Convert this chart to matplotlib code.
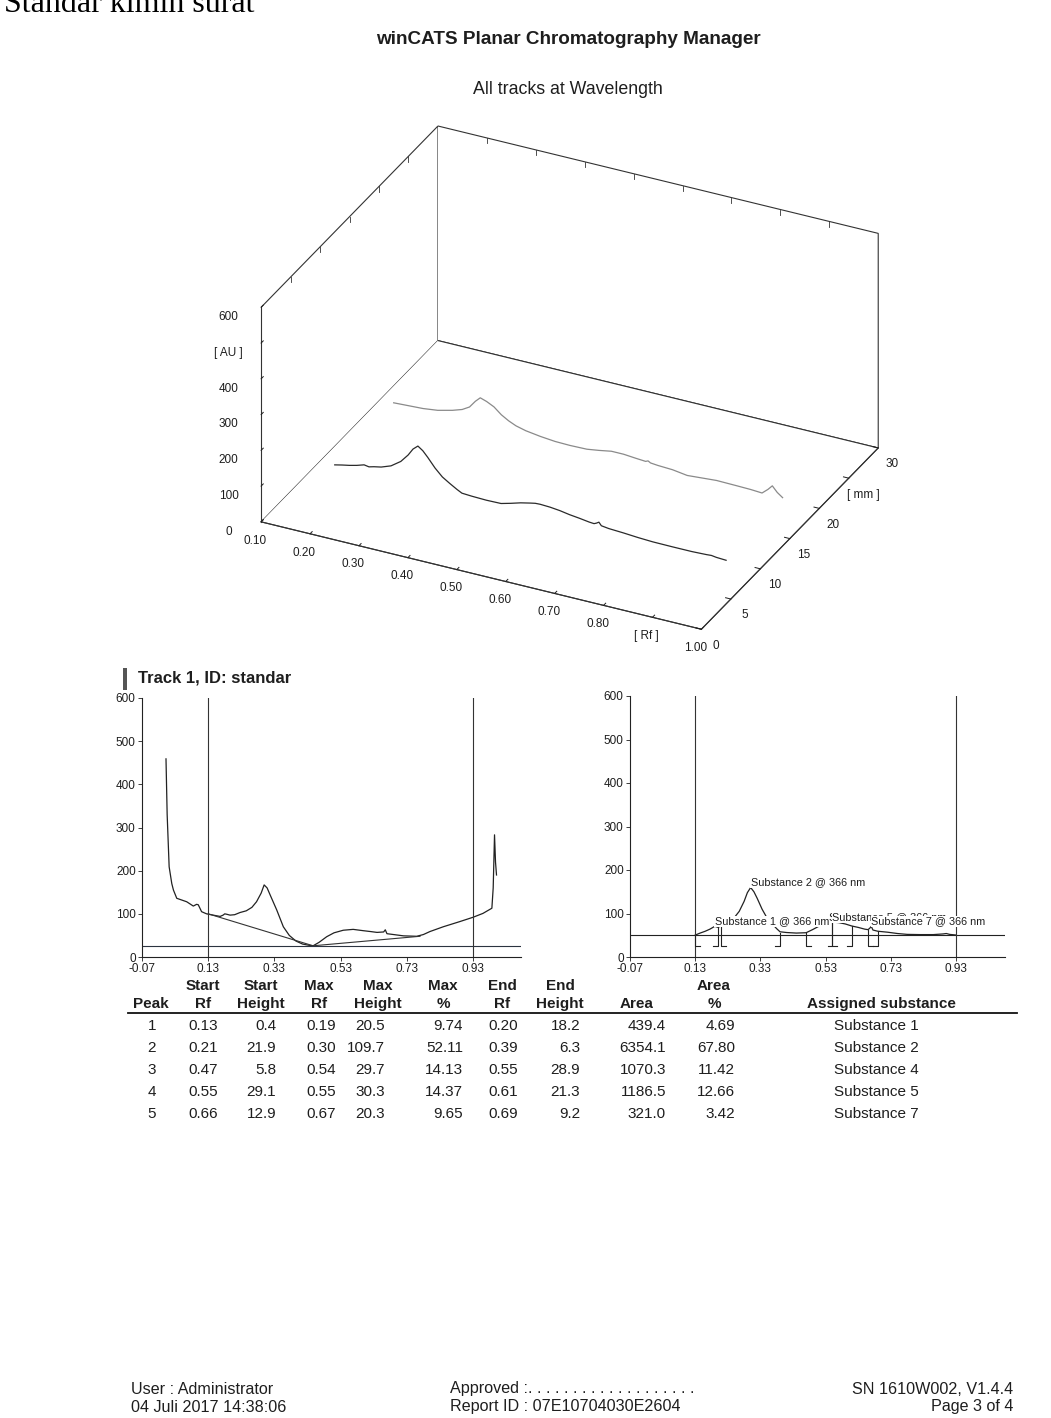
import numpy as np
import matplotlib
matplotlib.use("Agg")
import matplotlib.pyplot as plt
from matplotlib import font_manager
from matplotlib.lines import Line2D
from matplotlib.patches import Rectangle
from mpl_toolkits.mplot3d import proj3d

# ------------------------------------------------------------------ data
# raw densitogram of track 1 (left panel)
raw_rf = [0.0025, 0.006, 0.012, 0.02, 0.025, 0.035, 0.05, 0.065, 0.085, 0.095,
          0.10, 0.11, 0.125, 0.145, 0.166, 0.175, 0.18, 0.186, 0.196, 0.21,
          0.226, 0.245, 0.262, 0.276, 0.29, 0.299, 0.308, 0.317, 0.337, 0.357,
          0.375, 0.395, 0.415, 0.435, 0.447, 0.465, 0.488, 0.51, 0.538, 0.568,
          0.598, 0.62, 0.64, 0.66, 0.665, 0.67, 0.69, 0.72, 0.76, 0.78,
          0.80, 0.84, 0.89, 0.93, 0.96, 0.987, 0.991, 0.995, 0.998, 1.001]
raw_au = [459, 330, 209, 170, 155, 136, 132, 128, 118, 122,
          121, 105, 100, 97, 94, 97, 100, 99, 97, 98,
          103, 107, 115, 128, 148, 167, 160, 144, 109, 70,
          50, 37, 30, 27, 26, 34, 47, 56, 62, 64,
          61, 59, 57, 58, 63, 54, 52, 49, 48, 52,
          59, 70, 82, 92, 101, 113, 160, 283, 220, 190]
baseline_rf = [0.13, 0.447, 0.77]
baseline_au = [100, 26, 48]
reference_au = 26
window_rf = [0.13, 0.93]

# baseline-corrected tracks (3-D view; track 1 also in right panel)
trk1_rf = [0.13, 0.145, 0.16, 0.175, 0.19, 0.20, 0.21, 0.225, 0.245, 0.265,
           0.28, 0.29, 0.30, 0.31, 0.32, 0.335, 0.35, 0.365, 0.38, 0.39,
           0.41, 0.44, 0.47, 0.49, 0.51, 0.53, 0.54, 0.55, 0.57, 0.59,
           0.61, 0.63, 0.65, 0.66, 0.665, 0.67, 0.675, 0.69, 0.72, 0.75,
           0.78, 0.82, 0.86, 0.89, 0.90, 0.91, 0.93]
trk1_au = [0.4, 5, 9, 14, 20.5, 18.2, 21.9, 26, 36, 55,
           78, 98, 109.7, 100, 85, 60, 40, 27, 15, 8,
           6.3, 5, 5.8, 13, 21, 27, 29.7, 30.3, 29, 26,
           21.3, 18, 14, 12.9, 16, 20.3, 12, 9.2, 7, 4,
           2, 1.5, 1.5, 3, 4, 2, 0.5]
trk2_rf = [0.13, 0.16, 0.19, 0.22, 0.25, 0.27, 0.285, 0.297, 0.307, 0.32,
           0.335, 0.35, 0.365, 0.38, 0.40, 0.43, 0.46, 0.49, 0.525, 0.55,
           0.575, 0.60, 0.625, 0.645, 0.65, 0.655, 0.67, 0.70, 0.73, 0.76,
           0.79, 0.83, 0.86, 0.883, 0.895, 0.904, 0.914, 0.925]
trk2_au = [5, 7, 9, 14, 24, 33, 45, 65, 78, 72,
           62, 45, 33, 24, 17, 11, 7, 6, 7, 12,
           18, 18, 15, 13, 16, 12, 10, 8, 2, 5,
           8, 7, 6, 4, 18, 31, 16, 5]
track_mm = [10, 20]

# axis ticks
rf3_ticks = [0.10, 0.20, 0.30, 0.40, 0.50, 0.60, 0.70, 0.80, 0.90, 1.00]
rf3_labels = ["0.10", "0.20", "0.30", "0.40", "0.50", "0.60", "0.70", "0.80", "[ Rf ]", "1.00"]
mm_ticks = [0, 5, 10, 15, 20, 25, 30]
mm_labels = ["0", "5", "10", "15", "20", "[ mm ]", "30"]
au3_ticks = [0, 100, 200, 300, 400, 500, 600]
au3_labels = ["0", "100", "200", "300", "400", "[ AU ]", "600"]
rf2_ticks = [-0.07, 0.13, 0.33, 0.53, 0.73, 0.93]
au2_ticks = [0, 100, 200, 300, 400, 500, 600]

# peak table
peak_no = [1, 2, 3, 4, 5]
start_rf = [0.13, 0.21, 0.47, 0.55, 0.66]
start_height = [0.4, 21.9, 5.8, 29.1, 12.9]
max_rf = [0.19, 0.30, 0.54, 0.55, 0.67]
max_height = [20.5, 109.7, 29.7, 30.3, 20.3]
max_pct = [9.74, 52.11, 14.13, 14.37, 9.65]
end_rf = [0.20, 0.39, 0.55, 0.61, 0.69]
end_height = [18.2, 6.3, 28.9, 21.3, 9.2]
area = [439.4, 6354.1, 1070.3, 1186.5, 321.0]
area_pct = [4.69, 67.80, 11.42, 12.66, 3.42]
substance = ["Substance 1", "Substance 2", "Substance 4", "Substance 5", "Substance 7"]
wavelength_nm = 366

# ------------------------------------------------------------------ style
W, H = 1051, 1418
names = {f.name for f in font_manager.fontManager.ttflist}
SANS = "Liberation Sans" if "Liberation Sans" in names else "DejaVu Sans"
NARROW = "Liberation Sans Narrow" if "Liberation Sans Narrow" in names else SANS
SERIF = "Liberation Serif" if "Liberation Serif" in names else "DejaVu Serif"
plt.rcParams["font.family"] = [SANS, "DejaVu Sans"]
INK = "#1e1e1e"
EDGE = "#333333"
OFFSET = 50       # display offset of the corrected trace in right panel
MARK_LOW = 25     # lower end of peak border markers
FOOT = 0.014      # foot width of peak border markers

fig = plt.figure(figsize=(W / 100, H / 100), dpi=100)
fig.patch.set_facecolor("white")


def fx(x):
    return x / W


def fy(y):
    return 1 - y / H


def ptext(x, y, s, **kw):
    kw.setdefault("color", INK)
    kw.setdefault("va", "center")
    return fig.text(fx(x), fy(y), s, **kw)


# page header
ptext(4, 11.5, "Standar kimin surat", family=SERIF, fontsize=23, va="baseline", color="black")
ptext(568, 40, "winCATS Planar Chromatography Manager", ha="center", fontsize=13.6, fontweight="bold")
ptext(568, 90, "All tracks at Wavelength", ha="center", fontsize=12.8)

# ------------------------------------------------------------------ 3-D view
ax3 = fig.add_axes([0.1, 0.5, 0.8, 0.42], projection="3d")
ax3.set_proj_type("ortho")
ax3.view_init(elev=30, azim=-64)
ax3.set_box_aspect((1.977, 1.628, 1.0))
trace_cols = ["#2a2a2a", "#8a8a8a"]
for mm, rf, au, col in zip(track_mm, [trk1_rf, trk2_rf], [trk1_au, trk2_au], trace_cols):
    ax3.plot(rf, np.full(len(rf), mm), au, color=col, lw=0.9)

# small tick marks along the top edges of the back walls
rf_lo, rf_hi = rf3_ticks[0], rf3_ticks[-1]
mm_hi = mm_ticks[-1]
au_hi = au3_ticks[-1]
tick_len = 0.025 * au_hi
for r in rf3_ticks[1:-1]:
    ax3.plot([r, r], [mm_hi, mm_hi], [au_hi, au_hi - tick_len], color=EDGE, lw=0.6)
for m in mm_ticks[1:-1]:
    ax3.plot([rf_lo, rf_lo], [m, m], [au_hi, au_hi - tick_len], color=EDGE, lw=0.6)

ax3.set_xlim(0.1, 1.0)
ax3.set_ylim(0, 30)
ax3.set_zlim(0, 600)
ax3.set_xticks(rf3_ticks, rf3_labels)
ax3.set_yticks(mm_ticks, mm_labels)
ax3.set_zticks(au3_ticks, au3_labels)
ax3.grid(False)
for axis in (ax3.xaxis, ax3.yaxis, ax3.zaxis):
    axis.set_pane_color("white")
    axis.pane.set_facecolor("white")
    axis.pane.set_edgecolor(EDGE)
    axis.pane.set_linewidth(0.8)
    axis.line.set_color(EDGE)
    axis.line.set_linewidth(0.8)
    axis._axinfo["tick"]["inward_factor"] = 0.0
    axis._axinfo["tick"]["outward_factor"] = 0.15
    axis._axinfo["tick"]["linewidth"] = {True: 0.7, False: 0.7}
    axis._axinfo["tick"]["color"] = EDGE
ax3.zaxis.set_ticks_position("lower")
ax3.zaxis.set_label_position("lower")
ax3.tick_params(labelsize=8.5, pad=0, colors=INK)
ax3.zaxis.set_tick_params(pad=5)

# fit the box to its place on the page
fig.canvas.draw()
corners = np.array([(0.1, 0, 0), (1.0, 0, 0), (1.0, 30, 0), (0.1, 30, 0),
                    (0.1, 30, 600), (1.0, 30, 600), (0.1, 0, 600)], float)
targets = np.array([(261, 523), (700, 630), (876.7, 449.3), (439.3, 340),
                    (440, 125), (878, 230), (261, 309)], float)
targets[:, 1] = H - targets[:, 1]
for _ in range(2):
    xs, ys, _z = proj3d.proj_transform(corners[:, 0], corners[:, 1], corners[:, 2], ax3.get_proj())
    P = ax3.transData.transform(np.column_stack([xs, ys]))
    pm, qm = P.mean(0), targets.mean(0)
    k = ((P - pm) * (targets - qm)).sum() / ((P - pm) ** 2).sum()
    t = qm - k * pm
    b = ax3.get_position(original=True)
    x0, y0 = np.array([b.x0 * W, b.y0 * H]) * k + t
    x1, y1 = np.array([b.x1 * W, b.y1 * H]) * k + t
    ax3.set_position([x0 / W, y0 / H, (x1 - x0) / W, (y1 - y0) / H])
    fig.canvas.draw()
ax3.patch.set_alpha(0)

# ------------------------------------------------------------------ track title
fig.add_artist(Rectangle((fx(123), fy(690)), 4 / W, 22 / H, transform=fig.transFigure,
                         facecolor="#555555", edgecolor="none"))
ptext(138, 678, "Track 1, ID: standar", fontsize=12, fontweight="bold")


def style2d(ax, xmax):
    ax.set_xlim(-0.07, xmax)
    ax.set_ylim(0, 600)
    for s in ("top", "right"):
        ax.spines[s].set_visible(False)
    for s in ("left", "bottom"):
        ax.spines[s].set_linewidth(0.8)
        ax.spines[s].set_color("#222222")
    ax.set_xticks(rf2_ticks, [f"{v:.2f}" for v in rf2_ticks])
    ax.set_yticks(au2_ticks, [str(v) for v in au2_ticks])
    ax.tick_params(labelsize=8.5, length=3, width=0.6, pad=1.5, colors=INK)
    ax.patch.set_alpha(0)


# left panel: raw scan
axL = fig.add_axes([fx(142), fy(957), 379 / W, 259 / H])
axL.plot(raw_rf, raw_au, color="#222222", lw=0.9)
axL.plot(baseline_rf, baseline_au, color=EDGE, lw=0.8)
axL.axhline(reference_au, color="#2b3340", lw=0.8)
for r in window_rf:
    axL.axvline(r, color=EDGE, lw=0.8)
style2d(axL, 1.075)

# right panel: corrected scan with peak borders
axR = fig.add_axes([fx(630), fy(957), 375 / W, 261 / H])
axR.plot(trk1_rf, np.array(trk1_au) + OFFSET, color="#222222", lw=0.9)
axR.axhline(OFFSET, color="#222222", lw=0.8)
for r in window_rf:
    axR.axvline(r, color=EDGE, lw=0.8)
for s, sh, e, eh in zip(start_rf, start_height, end_rf, end_height):
    axR.plot([s + FOOT, s, s], [MARK_LOW, MARK_LOW, OFFSET + sh], color="#222222", lw=0.8)
    axR.plot([e - FOOT, e, e], [MARK_LOW, MARK_LOW, OFFSET + eh], color="#222222", lw=0.8)
for mr, mh, sub in zip(max_rf, max_height, substance):
    axR.text(mr, OFFSET + mh, f"{sub} @ {wavelength_nm} nm", ha="left", va="bottom",
             fontsize=7.8, color=INK,
             bbox=dict(facecolor="white", edgecolor="none", pad=0.2))
style2d(axR, 1.08)

# ------------------------------------------------------------------ peak table
TAB = dict(family=[NARROW, "DejaVu Sans"], fontsize=11)
head1 = [("Start", 203), ("Start", 261), ("Max", 319), ("Max", 378), ("Max", 443),
         ("End", 502), ("End", 560), ("Area", 714)]
head2 = [("Peak", 151), ("Rf", 203), ("Height", 261), ("Rf", 319), ("Height", 378),
         ("%", 443), ("Rf", 502), ("Height", 560), ("Area", 637), ("%", 714),
         ("Assigned substance", 881)]
for s, x in head1:
    ptext(x, 986, s, ha="center", fontweight="bold", **TAB)
for s, x in head2:
    ptext(x, 1004, s, ha="center", fontweight="bold", **TAB)
fig.add_artist(Line2D([fx(128), fx(1017)], [fy(1013), fy(1013)], transform=fig.transFigure,
                      color="#111111", lw=1.3))

columns = [
    ([str(v) for v in peak_no], 152, "center"),
    ([f"{v:.2f}" for v in start_rf], 203, "center"),
    ([f"{v:.1f}" for v in start_height], 276, "right"),
    ([f"{v:.2f}" for v in max_rf], 321, "center"),
    ([f"{v:.1f}" for v in max_height], 385, "right"),
    ([f"{v:.2f}" for v in max_pct], 463, "right"),
    ([f"{v:.2f}" for v in end_rf], 503, "center"),
    ([f"{v:.1f}" for v in end_height], 580, "right"),
    ([f"{v:.1f}" for v in area], 666, "right"),
    ([f"{v:.2f}" for v in area_pct], 735, "right"),
    (substance, 876, "center"),
]
row_y = [1026, 1048, 1070, 1092, 1114]
for vals, x, ha in columns:
    for v, y in zip(vals, row_y):
        ptext(x, y, v, ha=ha, **TAB)

# ------------------------------------------------------------------ footer
footer_left = ["User : Administrator", "04 Juli 2017 14:38:06"]
footer_mid = ["Approved :" + ". " * 18 + ".", "Report ID : 07E10704030E2604"]
footer_right = ["SN 1610W002, V1.4.4", "Page 3 of 4"]
FOOT_FONT = dict(family=[NARROW, "DejaVu Sans"], fontsize=11.6)
for i, y in enumerate([1389, 1407]):
    ptext(131, y, footer_left[i], ha="left", **FOOT_FONT)
    ptext(450, y, footer_mid[i], ha="left", **FOOT_FONT)
    ptext(1013, y, footer_right[i], ha="right", **FOOT_FONT)

fig.savefig("out.png", dpi=100, facecolor="white")
